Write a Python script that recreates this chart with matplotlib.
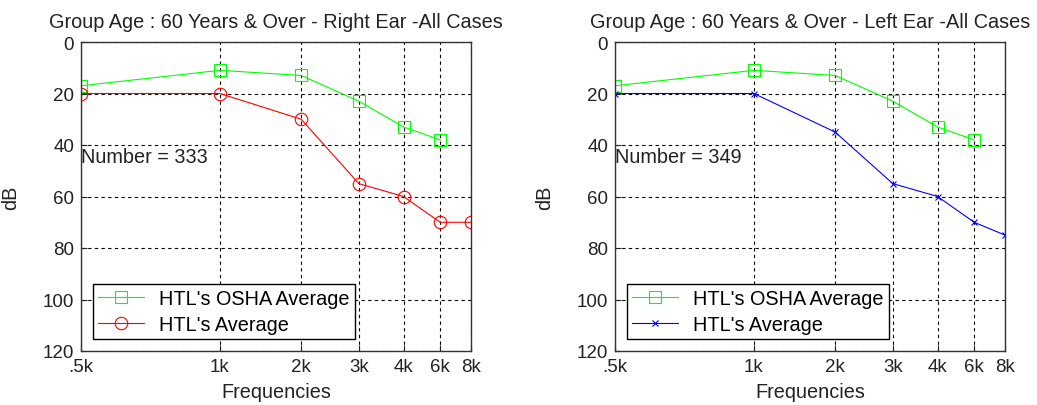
import numpy as np
import matplotlib.pyplot as plt

plt.rcParams['font.family'] = ['Liberation Sans', 'DejaVu Sans']

# frequency categories, drawn at positions 1..7 on a log axis
freq_labels = [".5k", "1k", "2k", "3k", "4k", "6k", "8k"]
freq_pos = [1, 2, 3, 4, 5, 6, 7]

osha_avg = [17, 11, 13, 23, 33, 38]          # no 8k value
right_avg = [20, 20, 30, 55, 60, 70, 70]
left_avg = [20, 20, 35, 55, 60, 70, 75]

right_n = 333
left_n = 349

panels = [
    ("Group Age : 60 Years & Over - Right Ear -All Cases", right_avg, right_n, "red", "o"),
    ("Group Age : 60 Years & Over - Left Ear -All Cases", left_avg, left_n, "blue", "x"),
]

FS = 14.3
TXT = "#222222"

fig = plt.figure(figsize=(10.37, 4.06), dpi=100)
lefts = [81 / 1037, 615 / 1037]
width = 390 / 1037
bottom = 54 / 406
height = 309 / 406

for (title, avg, n, col, mk), lx in zip(panels, lefts):
    ax = fig.add_axes([lx, bottom, width, height])
    ax.set_xscale("log")
    ax.plot(freq_pos[:len(osha_avg)], osha_avg, color=(0, 1, 0), lw=0.8,
            marker="s", ms=9, mfc="none", mew=0.8, label="HTL's OSHA Average")
    if mk == "o":
        ax.plot(freq_pos, avg, color=col, lw=0.8, marker="o", ms=9,
                mfc="none", mew=0.8, label="HTL's Average")
    else:
        ax.plot(freq_pos, avg, color=col, lw=0.8, marker="x", ms=5,
                mew=0.8, label="HTL's Average")
    ax.set_xlim(1, 7)
    ax.set_ylim(120, 0)
    ax.set_xticks(freq_pos)
    ax.set_xticklabels(freq_labels)
    ax.xaxis.set_minor_locator(plt.NullLocator())
    ax.set_yticks(np.arange(0, 121, 20))
    ax.tick_params(direction="in", length=4, labelsize=13.5, pad=5, colors=TXT)
    ax.grid(True, color="black", ls=(0, (3, 3)), lw=0.8)
    for s in ax.spines.values():
        s.set_color("#333333")
        s.set_linewidth(1)
    ax.set_title(title, fontsize=FS, pad=11, color=TXT)
    ax.set_xlabel("Frequencies", fontsize=FS, color=TXT, labelpad=5)
    ax.set_ylabel("dB", fontsize=FS, color=TXT, labelpad=16)
    ax.text(1, 44.5, "Number = %d" % n, fontsize=FS, va="center", ha="left", color=TXT)
    leg = ax.legend(loc="lower left", fontsize=FS, frameon=True, fancybox=False,
                    edgecolor="black", framealpha=1, borderaxespad=0.6,
                    handlelength=2.3, borderpad=0.25, labelspacing=0.35,
                    handletextpad=0.8)
    leg.get_frame().set_linewidth(1)

fig.savefig("out.png", dpi=100)
